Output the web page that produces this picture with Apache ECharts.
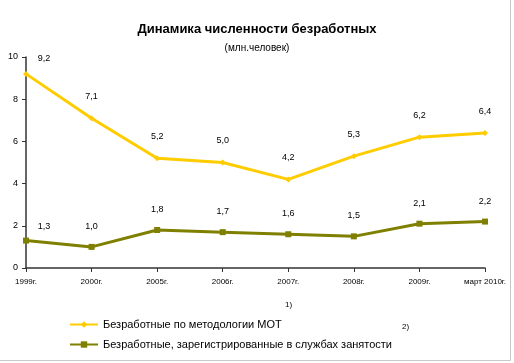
<!DOCTYPE html>
<html><head><meta charset="utf-8">
<script src="https://cdn.jsdelivr.net/npm/echarts@6/dist/echarts.min.js"></script>
<style>html,body{margin:0;padding:0;background:#fff}#c{width:514px;height:363px}</style>
</head><body><div id="c"></div>
<script>
var categories = ['1999г.', '2000г.', '2005г.', '2006г.', '2007г.', '2008г.', '2009г.', 'март 2010г.'];
var moValues = [9.2, 7.1, 5.2, 5.0, 4.2, 5.3, 6.2, 6.4];
var regValues = [1.3, 1.0, 1.8, 1.7, 1.6, 1.5, 2.1, 2.2];
var yTicks = [0, 2, 4, 6, 8, 10];
var seriesNames = ['Безработные по методологии МОТ', 'Безработные, зарегистрированные в службах занятости'];
var titleText = 'Динамика численности безработных';
var subtitleText = '(млн.человек)';

var FONT = '"Liberation Sans Narrow", "Liberation Sans", Arial, sans-serif';
var chart = echarts.init(document.getElementById('c'));
function fmt(p){ return Number(p.value).toFixed(1).replace('.', ','); }
function mkData(arr){
  return arr.map(function(v,i){
    var d = {value: v};
    if (i === 0) d.label = {offset: [18, 6]};
    return d;
  });
}
chart.setOption({
  animation: false,
  backgroundColor: '#fff',
  title: [
    {text: titleText, left: 'center', top: 18, textStyle: {fontFamily: FONT, fontSize: 13, fontWeight: 'bold', color: '#000'}},
    {text: subtitleText, left: 'center', top: 38, textStyle: {fontFamily: FONT, fontSize: 10, fontWeight: 'normal', color: '#000'}}
  ],
  grid: {left: 26, right: 29, top: 57, bottom: 95},
  legend: {
    orient: 'vertical', left: 64, top: 314, itemWidth: 28, itemHeight: 8, itemGap: 9,
    textStyle: {fontFamily: FONT, fontSize: 11, color: '#000'},
    data: seriesNames
  },
  xAxis: {
    type: 'category', data: categories, boundaryGap: false,
    axisLine: {lineStyle: {color: '#333', width: 1.5}},
    axisTick: {show: true, length: 4, lineStyle: {color: '#333'}},
    axisLabel: {fontFamily: FONT, fontSize: 8, color: '#000', margin: 10, interval: 0},
    splitLine: {show: false}
  },
  yAxis: {
    type: 'value', min: 0, max: 10, interval: 2,
    axisLine: {show: true, lineStyle: {color: '#333', width: 1.5}},
    axisTick: {show: true, length: 4, lineStyle: {color: '#333'}},
    axisLabel: {fontFamily: FONT, fontSize: 9, color: '#000', margin: 8},
    splitLine: {show: false}
  },
  series: [
    {
      name: seriesNames[0], type: 'line', data: mkData(moValues),
      lineStyle: {color: '#FFCC00', width: 3}, itemStyle: {color: '#FFCC00'},
      symbol: 'diamond', symbolSize: 6,
      label: {show: true, position: 'top', distance: 14, fontFamily: FONT, fontSize: 9, color: '#000', formatter: fmt}
    },
    {
      name: seriesNames[1], type: 'line', data: mkData(regValues),
      lineStyle: {color: '#7F7F00', width: 3}, itemStyle: {color: '#7F7F00'},
      symbol: 'rect', symbolSize: 6,
      label: {show: true, position: 'top', distance: 13, fontFamily: FONT, fontSize: 9, color: '#000', formatter: fmt}
    }
  ],
  graphic: [
    {type: 'text', left: 285, top: 301, style: {text: '1)', fontFamily: FONT, fontSize: 8, fill: '#000'}},
    {type: 'text', left: 402, top: 323, style: {text: '2)', fontFamily: FONT, fontSize: 8, fill: '#000'}},
    {type: 'line', shape: {x1: 510.5, y1: 0, x2: 510.5, y2: 360.5}, style: {stroke: '#c8c8c8', lineWidth: 1}},
    {type: 'line', shape: {x1: 0, y1: 360.5, x2: 510.5, y2: 360.5}, style: {stroke: '#c8c8c8', lineWidth: 1}}
  ]
});
</script></body></html>
